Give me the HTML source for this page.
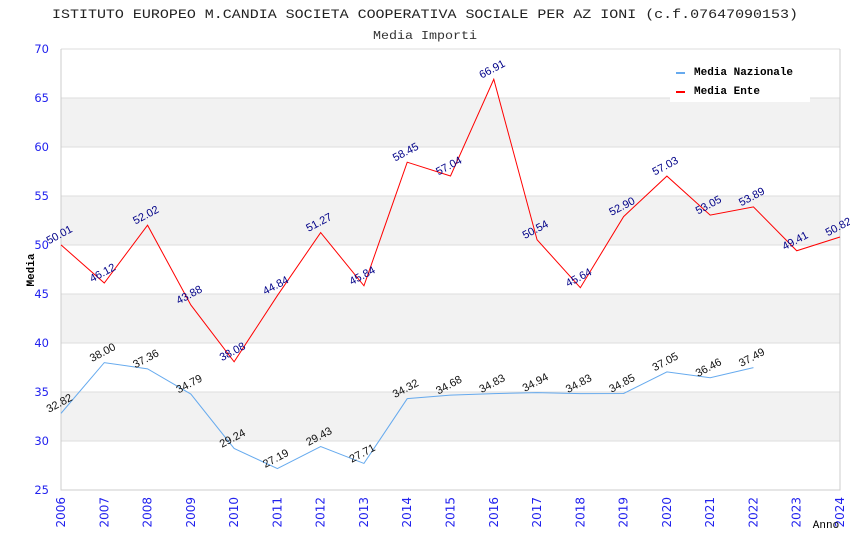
<!DOCTYPE html>
<html><head><meta charset="utf-8"><style>
body{margin:0;background:#fff;width:850px;height:550px;overflow:hidden}
svg{display:block}
</style></head><body>
<svg id="chart" width="850" height="550" font-family="'Liberation Mono', monospace">
<text x="425" y="18" text-anchor="middle" font-size="13" fill="#222" textLength="746" lengthAdjust="spacingAndGlyphs">ISTITUTO EUROPEO M.CANDIA SOCIETA COOPERATIVA SOCIALE PER AZ IONI (c.f.07647090153)</text>
<text x="425" y="39" text-anchor="middle" font-size="12" fill="#333" textLength="104" lengthAdjust="spacingAndGlyphs">Media Importi</text>
<g id="bands"></g><g id="grid"></g><g id="axes"></g><g id="series"></g><g id="labels"></g>
<text x="34" y="270" text-anchor="middle" font-size="11" font-weight="bold" fill="#000" transform="rotate(-90 34 270)">Media</text>
<text x="826" y="528" text-anchor="middle" font-size="11" fill="#000">Anno</text>
<g>
<rect x="670" y="60" width="140" height="42" fill="#fff"/>
<rect x="676" y="72" width="9" height="2" fill="#66aaee"/>
<text x="694" y="75" font-size="11" font-weight="bold" fill="#000">Media Nazionale</text>
<rect x="676" y="91" width="9" height="2" fill="#ff0000"/>
<text x="694" y="94" font-size="11" font-weight="bold" fill="#000">Media Ente</text>
</g>
</svg>
<script>
const years=[2006,2007,2008,2009,2010,2011,2012,2013,2014,2015,2016,2017,2018,2019,2020,2021,2022,2023,2024];
const nazionale=[32.82,38.00,37.36,34.79,29.24,27.19,29.43,27.71,34.32,34.68,34.83,34.94,34.83,34.85,37.05,36.46,37.49];
const ente=[50.01,46.12,52.02,43.88,38.08,44.84,51.27,45.84,58.45,57.04,66.91,50.54,45.64,52.90,57.03,53.05,53.89,49.41,50.82];
const yTicks=[25,30,35,40,45,50,55,60,65,70];
const NS='http://www.w3.org/2000/svg';
const L=61,R=840,T=49,B=490,yMin=25,yMax=70;
const xs=i=>L+(R-L)*i/(years.length-1);
const ys=v=>B-(v-yMin)/(yMax-yMin)*(B-T);
function mk(tag,attrs,parent,txt){const e=document.createElementNS(NS,tag);for(const k in attrs)e.setAttribute(k,attrs[k]);if(txt!==undefined)e.textContent=txt;document.getElementById(parent).appendChild(e);return e;}
for(let k=0;k<yTicks.length-1;k++){
  if((yTicks.length-2-k)%2===1){
    const b=mk('rect',{x:L,y:ys(yTicks[k+1]),width:R-L,height:ys(yTicks[k])-ys(yTicks[k+1]),fill:'#f2f2f2'},'bands');
    
    
  }
}
yTicks.forEach(v=>{
  const g=mk('line',{x1:L,x2:R,y1:ys(v),y2:ys(v),stroke:'#dddddd'},'grid');
  
  
  const t=mk('text',{x:L-12,y:ys(v)+4,'text-anchor':'end','font-size':'11.5','font-family':"'DejaVu Sans',sans-serif",fill:'#2222ee'},'axes',v);
  
  
});
const ax=mk('path',{d:`M${L},${T}V${B}H${R}V${T}`,fill:'none',stroke:'#cccccc'},'axes');


years.forEach((y,i)=>{
  const x=xs(i);
  const t=mk('text',{x:x+4,y:497,'text-anchor':'end','font-size':'12','font-family':"'DejaVu Sans',sans-serif",fill:'#2222ee',transform:`rotate(-90 ${x+4} 497)`},'axes',y);
  
  
});
function series(vals,color,lblColor,name){
  const p=mk('polyline',{points:vals.map((v,i)=>xs(i)+','+ys(v)).join(' '),fill:'none',stroke:color,'stroke-width':'1'},'series');
  
  
  vals.forEach((v,i)=>{
    const x=xs(i),y=ys(v)-7;
    const t=mk('text',{x:x,y:y,'text-anchor':'middle','font-size':'11','font-family':"'Liberation Sans',sans-serif",fill:lblColor,transform:`rotate(-28 ${x} ${y})`},'labels',v.toFixed(2));
    
    
  });
}
series(nazionale,'#66aaee','#111','nazionale');
series(ente,'#ff0000','#000088','ente');
</script>
</body></html>
